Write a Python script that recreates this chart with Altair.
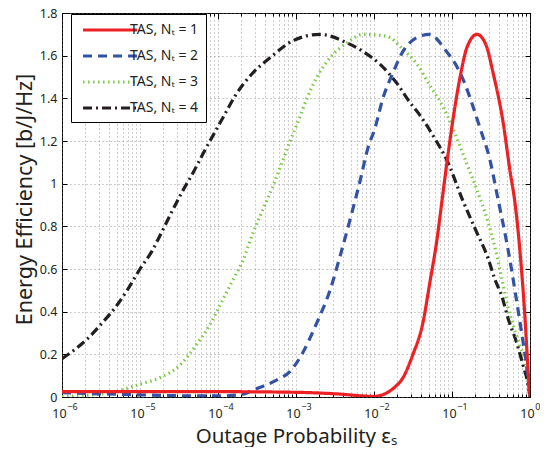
import altair as alt
import pandas as pd

# ---------------- data ----------------
labels = ["TAS, Nₜ = 1", "TAS, Nₜ = 2", "TAS, Nₜ = 3", "TAS, Nₜ = 4"]

eps_n1 = [1e-6, 1e-5, 1e-4, 1e-3, 3.2e-3, 1e-2, 0.0215, 0.0316, 0.0425, 0.0522,
          0.0643, 0.0744, 0.0862, 0.1, 0.127, 0.156, 0.209, 0.273, 0.336, 0.451,
          0.554, 0.642, 0.745, 0.863, 0.943, 1.0]
ee_n1 = [0.025, 0.025, 0.025, 0.022, 0.015, 0.003, 0.07, 0.2, 0.35, 0.54,
         0.74, 0.92, 1.10, 1.27, 1.50, 1.64, 1.70, 1.65, 1.52, 1.29,
         1.06, 0.91, 0.68, 0.37, 0.13, 0.0]

eps_n2 = [1e-6, 3.1e-6, 1e-5, 3.2e-5, 1e-4, 1.9e-4, 3.16e-4, 5.7e-4, 8.4e-4, 1.23e-3,
          1.86e-3, 2.73e-3, 3.67e-3, 4.92e-3, 6.6e-3, 8.4e-3, 1.03e-2, 1.3e-2, 1.75e-2, 2.35e-2,
          3.36e-2, 5.2e-2, 8.1e-2, 0.127, 0.229, 0.307, 0.378, 0.554, 0.681, 0.789,
          0.916, 1.0]
ee_n2 = [0.02, 0.015, 0.01, 0.006, 0.005, 0.01, 0.04, 0.08, 0.12, 0.21,
         0.35, 0.50, 0.66, 0.83, 1.01, 1.17, 1.26, 1.40, 1.52, 1.62,
         1.68, 1.70, 1.63, 1.52, 1.26, 1.11, 0.95, 0.64, 0.44, 0.29,
         0.13, 0.0]

eps_n3 = [1e-6, 4.1e-6, 1e-5, 1.8e-5, 3.26e-5, 5.4e-5, 7.9e-5, 1.06e-4, 1.56e-4, 2.09e-4,
          2.81e-4, 3.78e-4, 5.07e-4, 6.8e-4, 8.4e-4, 1.06e-3, 1.38e-3, 1.86e-3, 2.73e-3, 4.5e-3,
          7.2e-3, 1.47e-2, 2.35e-2, 3.56e-2, 5.2e-2, 7.7e-2, 0.1, 0.119, 0.16, 0.209,
          0.29, 0.356, 0.438, 0.522, 0.605, 0.745, 0.863, 0.943, 1.0]
ee_n3 = [0.002, 0.02, 0.06, 0.09, 0.15, 0.25, 0.34, 0.43, 0.55, 0.64,
         0.77, 0.88, 0.99, 1.11, 1.20, 1.29, 1.40, 1.50, 1.59, 1.66,
         1.70, 1.69, 1.63, 1.56, 1.46, 1.36, 1.27, 1.20, 1.08, 0.97,
         0.82, 0.70, 0.55, 0.42, 0.34, 0.24, 0.17, 0.09, 0.0]

eps_n4 = [1e-6, 1.27e-6, 2.15e-6, 3.36e-6, 5.07e-6, 7.0e-6, 1e-5, 1.43e-5, 1.91e-5, 2.57e-5,
          3.45e-5, 4.77e-5, 6.42e-5, 1.16e-4, 1.65e-4, 2.81e-4, 4.64e-4, 9.15e-4, 2.03e-3, 4.5e-3,
          7.2e-3, 1.19e-2, 1.97e-2, 2.9e-2, 3.89e-2, 6.05e-2, 8.6e-2, 0.138, 0.197, 0.29,
          0.356, 0.438, 0.522, 0.681, 0.813, 0.943, 1.0]
ee_n4 = [0.18, 0.206, 0.275, 0.352, 0.43, 0.506, 0.60, 0.685, 0.775, 0.87,
         0.96, 1.05, 1.14, 1.31, 1.41, 1.52, 1.59, 1.67, 1.70, 1.66,
         1.62, 1.56, 1.47, 1.38, 1.32, 1.21, 1.11, 0.92, 0.79, 0.65,
         0.55, 0.47, 0.37, 0.25, 0.15, 0.06, 0.0]

x_decades = [1e-6, 1e-5, 1e-4, 1e-3, 1e-2, 1e-1, 1.0]
y_ticks = [0, 0.2, 0.4, 0.6, 0.8, 1.0, 1.2, 1.4, 1.6, 1.8]

# ---------------- styles ----------------
colors = ["#ed2024", "#3452a4", "#7ac943", "#231f20"]
dashes = [[1, 0], [9, 6], [1.5, 3.5], [9, 4, 2, 4]]
widths = [3.2, 3.2, 1.3, 2.6]
FONT = "Noto Sans"
TXT = "#231f20"
GRID = "#777"

series = [(labels[3], eps_n4, ee_n4), (labels[2], eps_n3, ee_n3),
          (labels[1], eps_n2, ee_n2), (labels[0], eps_n1, ee_n1)]
rows = []
for lab, xs, ys in series:
    for xv, yv in zip(xs, ys):
        rows.append({"series": lab, "eps": xv, "ee": yv})
df = pd.DataFrame(rows)

minor = [k * 10.0 ** d for d in range(-6, 0) for k in range(2, 10)]
all_x = sorted(minor + x_decades)

W, H = 468, 384
xscale = alt.Scale(type="log", domain=[1e-6, 1], nice=False)
yscale = alt.Scale(domain=[0, 1.8], nice=False)

legend = alt.Legend(
    title=None, orient="none", legendX=9, legendY=1,
    fillColor="white", strokeColor="#000", padding=7, cornerRadius=0,
    labelFont=FONT, labelFontSize=14, labelColor=TXT, labelOffset=11,
    symbolType="M-3.85,0H3.85", symbolSize=196, symbolOffset=23, rowPadding=10,
    labelLimit=200,
)

base = alt.Chart(df)

lines = base.mark_line(interpolate="monotone", clip=True).encode(
    x=alt.X("eps:Q", scale=xscale, axis=alt.Axis(
        orient="bottom",
        values=x_decades, labelExpr="'10'", ticks=False, grid=False, domain=False,
        labelFont=FONT, labelFontSize=12.5, labelColor=TXT, labelPadding=10, labelOffset=-3,
        labelFlush=False,
        title="Outage Probability εₛ", titleFont=FONT, titleFontSize=20.5,
        titleFontWeight="normal", titleColor=TXT, titleY=39, titleBaseline="middle")),
    y=alt.Y("ee:Q", scale=yscale, axis=alt.Axis(
        orient="left",
        values=y_ticks, labelExpr="format(datum.value, '~g')", ticks=False,
        grid=True, gridDash=[1, 3], gridColor=GRID, gridWidth=0.7, domain=False,
        labelFont=FONT, labelFontSize=12.5, labelColor=TXT, labelPadding=5,
        labelFlush=False,
        title="Energy Efficiency [b/J/Hz]", titleFont=FONT, titleFontSize=21.5,
        titleFontWeight="normal", titleColor=TXT, titleX=-37, titleY=H / 2 - 6,
        titleBaseline="middle", titleAlign="center")),
    color=alt.Color("series:N", scale=alt.Scale(domain=labels, range=colors), legend=legend),
    strokeDash=alt.StrokeDash("series:N", scale=alt.Scale(domain=labels, range=dashes), legend=legend),
    strokeWidth=alt.StrokeWidth("series:N", scale=alt.Scale(domain=labels, range=widths), legend=legend),
)


def ghost(xaxis, yaxis):
    return base.mark_point(opacity=0).encode(
        x=alt.X("eps:Q", scale=xscale, axis=xaxis),
        y=alt.Y("ee:Q", scale=yscale, axis=yaxis),
    )


def tick_axis(orient, offset, values, size, grid=False):
    kw = dict(orient=orient, offset=offset, values=values, labels=False, domain=False,
              ticks=True, tickSize=size, tickColor="#000", tickWidth=1, title=None,
              grid=grid)
    if grid:
        kw.update(gridDash=[1, 3], gridColor=GRID, gridWidth=0.7)
    return alt.Axis(**kw)


# exponent labels for the x axis
exp_axis = alt.Axis(orient="bottom", values=x_decades, ticks=False, domain=False, grid=False,
                    labelExpr="format(log(datum.value)/LN10, 'd')", labelFont=FONT,
                    labelFontSize=9, labelColor=TXT, labelPadding=5, labelOffset=10,
                    labelAlign={"condition": {"test": "datum.value >= 1", "value": "right"},
                                "value": "center"},
                    labelFlush=False, title=None)

g1 = ghost(tick_axis("top", -H, all_x, 3, grid=True), tick_axis("right", -W, y_ticks, 5))
g2 = ghost(tick_axis("bottom", -H, all_x, 3), tick_axis("left", -W, y_ticks, 5))
g3 = ghost(tick_axis("top", -H, x_decades, 6), None)
g4 = ghost(tick_axis("bottom", -H, x_decades, 6), None)
g5 = ghost(exp_axis, None)

chart = alt.layer(g1, g2, g3, g4, g5, lines).resolve_axis(
    x="independent", y="independent"
).properties(
    width=W, height=H,
    padding={"left": 54, "top": 5, "right": 10, "bottom": 50},
    autosize=alt.AutoSizeParams(type="none"),
    background="white",
).configure_view(stroke="#000", strokeWidth=1)

chart.save("out.html", embed_options={"renderer": "svg", "actions": False})
